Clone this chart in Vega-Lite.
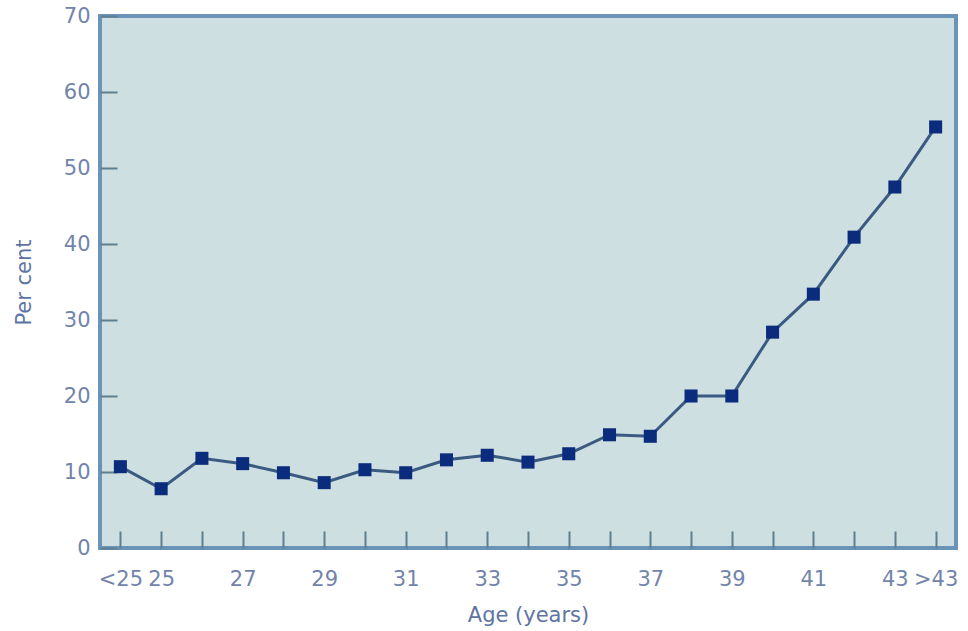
{
  "$schema": "https://vega.github.io/schema/vega-lite/v6.json",
  "autosize": "none",
  "width": 856,
  "height": 532,
  "padding": {"left": 100, "top": 16, "right": 12, "bottom": 83},
  "background": "#ffffff",
  "config": {
    "view": {"fill": "#cddfe0", "stroke": "#6b93b8", "strokeWidth": 4},
    "axis": {
      "labelFont": "DejaVu Sans", "titleFont": "DejaVu Sans",
      "labelColor": "#7284aa", "titleColor": "#5e74a2",
      "labelFontSize": 21, "titleFontSize": 21, "titleFontWeight": "normal",
      "domain": false, "grid": false,
      "tickColor": "#5f7f8f", "tickWidth": 2
    }
  },
  "data": {"values": [
    {"age": "<25", "pct": 10.7},
    {"age": "25", "pct": 7.8},
    {"age": "26", "pct": 11.8},
    {"age": "27", "pct": 11.1},
    {"age": "28", "pct": 9.9},
    {"age": "29", "pct": 8.6},
    {"age": "30", "pct": 10.3},
    {"age": "31", "pct": 9.9},
    {"age": "32", "pct": 11.6},
    {"age": "33", "pct": 12.2},
    {"age": "34", "pct": 11.3},
    {"age": "35", "pct": 12.4},
    {"age": "36", "pct": 14.9},
    {"age": "37", "pct": 14.7},
    {"age": "38", "pct": 20.0},
    {"age": "39", "pct": 20.0},
    {"age": "40", "pct": 28.4},
    {"age": "41", "pct": 33.4},
    {"age": "42", "pct": 40.9},
    {"age": "43", "pct": 47.5},
    {"age": ">43", "pct": 55.4}
  ]},
  "encoding": {
    "x": {
      "field": "age", "type": "ordinal", "sort": null,
      "scale": {"type": "point", "padding": 0.5},
      "axis": {
        "title": "Age (years)", "labelAngle": 0, "tickSize": -17,
        "labelPadding": 37, "titlePadding": 15,
        "labelExpr": "indexof(['<25','25','27','29','31','33','35','37','39','41','43','>43'], datum.value) >= 0 ? datum.value : ''"
      }
    },
    "y": {
      "field": "pct", "type": "quantitative",
      "scale": {"domain": [0, 70], "nice": false},
      "axis": {"title": "Per cent", "values": [0,10,20,30,40,50,60,70], "tickSize": -17, "labelPadding": 27, "titlePadding": 29}
    }
  },
  "layer": [
    {"mark": {"type": "line", "color": "#3a5a82", "strokeWidth": 3}},
    {"mark": {"type": "point", "shape": "square", "filled": true, "size": 170, "color": "#0b2c7c", "opacity": 1}}
  ]
}
